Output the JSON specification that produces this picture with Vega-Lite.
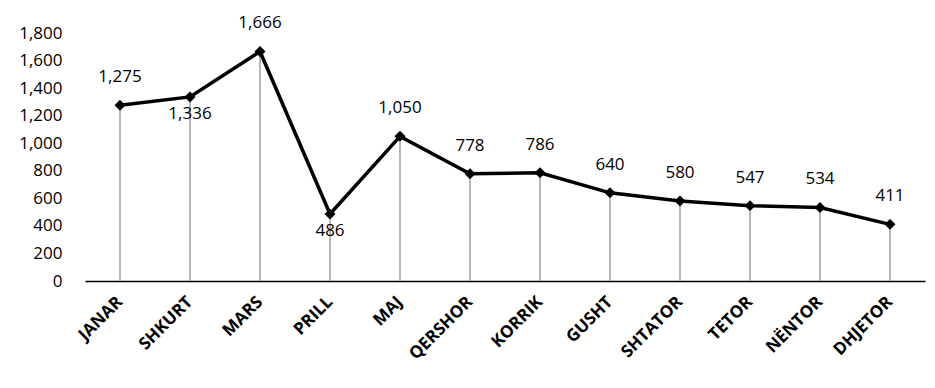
{
  "$schema": "https://vega.github.io/schema/vega-lite/v6.json",
  "autosize": {"type": "none"},
  "width": 840,
  "height": 248,
  "padding": {"left": 85, "top": 33, "right": 10, "bottom": 107},
  "background": "white",
  "config": {"view": {"stroke": null}, "font": "Open Sans"},
  "data": {
    "values": [
      {"month": "JANAR", "value": 1275, "pos": "above"},
      {"month": "SHKURT", "value": 1336, "pos": "below"},
      {"month": "MARS", "value": 1666, "pos": "above"},
      {"month": "PRILL", "value": 486, "pos": "below"},
      {"month": "MAJ", "value": 1050, "pos": "above"},
      {"month": "QERSHOR", "value": 778, "pos": "above"},
      {"month": "KORRIK", "value": 786, "pos": "above"},
      {"month": "GUSHT", "value": 640, "pos": "above"},
      {"month": "SHTATOR", "value": 580, "pos": "above"},
      {"month": "TETOR", "value": 547, "pos": "above"},
      {"month": "NËNTOR", "value": 534, "pos": "above"},
      {"month": "DHJETOR", "value": 411, "pos": "above"}
    ]
  },
  "encoding": {
    "x": {
      "field": "month", "type": "nominal", "sort": null, "title": null,
      "scale": {"paddingInner": 0, "paddingOuter": 0},
      "axis": {"labelAngle": -45, "labelAlign": "right", "labelBaseline": "middle", "labelFontWeight": "bold", "labelFontSize": 17, "labelColor": "black", "ticks": false, "domainColor": "black", "domainWidth": 1.5, "labelPadding": 18}
    },
    "y": {
      "field": "value", "type": "quantitative", "title": null,
      "scale": {"domain": [0, 1800], "nice": false},
      "axis": {"values": [0, 200, 400, 600, 800, 1000, 1200, 1400, 1600, 1800], "format": ",.0f", "grid": false, "domain": false, "ticks": false, "labelFontSize": 17, "labelColor": "black", "labelPadding": 23}
    }
  },
  "layer": [
    {"mark": {"type": "rule", "color": "#888888", "strokeWidth": 1.2}, "encoding": {"y2": {"datum": 0}}},
    {"mark": {"type": "line", "color": "black", "strokeWidth": 3.5}},
    {"mark": {"type": "point", "shape": "diamond", "filled": true, "color": "black", "size": 120, "opacity": 1}},
    {
      "transform": [{"filter": "datum.pos === 'above'"}],
      "mark": {"type": "text", "baseline": "bottom", "dy": -19, "fontSize": 17, "color": "black"},
      "encoding": {"text": {"field": "value", "type": "quantitative", "format": ","}}
    },
    {
      "transform": [{"filter": "datum.pos === 'below'"}],
      "mark": {"type": "text", "baseline": "top", "dy": 9, "fontSize": 17, "color": "black"},
      "encoding": {"text": {"field": "value", "type": "quantitative", "format": ","}}
    }
  ]
}
